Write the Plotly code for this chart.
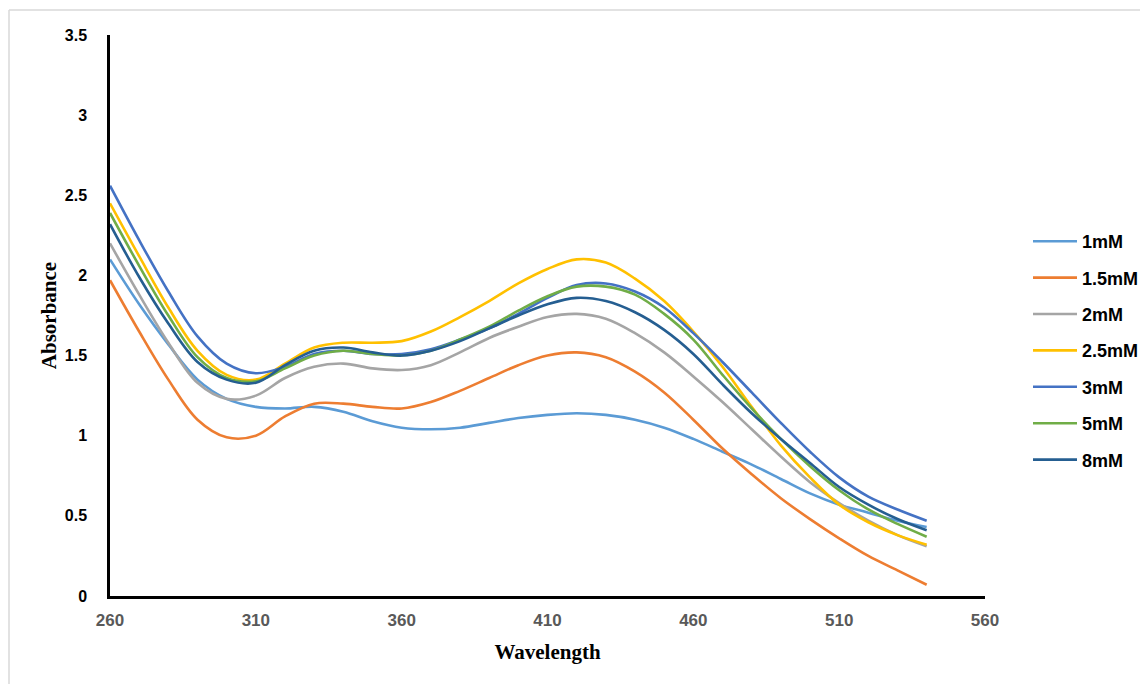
import plotly.graph_objects as go

wavelength = list(range(260, 541, 10))

a_1mM = [2.10, 1.82, 1.57, 1.35, 1.23, 1.18, 1.17, 1.18, 1.15, 1.09, 1.05, 1.04, 1.05, 1.08, 1.11,
         1.13, 1.14, 1.13, 1.10, 1.05, 0.98, 0.90, 0.82, 0.73, 0.64, 0.57, 0.52, 0.47, 0.43]
a_1_5mM = [1.97, 1.65, 1.35, 1.10, 0.99, 1.00, 1.12, 1.20, 1.20, 1.18, 1.17, 1.21, 1.28, 1.36, 1.44,
           1.50, 1.52, 1.49, 1.40, 1.27, 1.10, 0.92, 0.76, 0.61, 0.48, 0.36, 0.25, 0.16, 0.07]
a_2mM = [2.20, 1.88, 1.58, 1.33, 1.23, 1.25, 1.36, 1.43, 1.45, 1.42, 1.41, 1.44, 1.52, 1.61, 1.68,
         1.74, 1.76, 1.73, 1.64, 1.52, 1.37, 1.21, 1.04, 0.87, 0.71, 0.58, 0.47, 0.38, 0.31]
a_2_5mM = [2.45, 2.12, 1.80, 1.53, 1.38, 1.35, 1.45, 1.55, 1.58, 1.58, 1.59, 1.65, 1.74, 1.84, 1.95,
           2.04, 2.10, 2.08, 1.98, 1.84, 1.65, 1.43, 1.18, 0.94, 0.74, 0.57, 0.46, 0.38, 0.32]
a_3mM = [2.56, 2.22, 1.90, 1.62, 1.45, 1.39, 1.43, 1.51, 1.53, 1.51, 1.51, 1.54, 1.60, 1.67, 1.76,
         1.86, 1.94, 1.95, 1.90, 1.80, 1.64, 1.46, 1.27, 1.08, 0.90, 0.74, 0.62, 0.54, 0.47]
a_5mM = [2.39, 2.06, 1.75, 1.49, 1.36, 1.34, 1.42, 1.50, 1.53, 1.51, 1.50, 1.53, 1.60, 1.68, 1.78,
         1.87, 1.93, 1.93, 1.88, 1.76, 1.60, 1.38, 1.17, 0.98, 0.81, 0.66, 0.54, 0.45, 0.37]
a_8mM = [2.32, 1.99, 1.70, 1.46, 1.35, 1.33, 1.44, 1.53, 1.55, 1.52, 1.50, 1.53, 1.59, 1.67, 1.75,
         1.82, 1.86, 1.84, 1.77, 1.66, 1.51, 1.32, 1.14, 0.98, 0.83, 0.68, 0.57, 0.48, 0.41]

series_names = ["1mM", "1.5mM", "2mM", "2.5mM", "3mM", "5mM", "8mM"]
series_values = [a_1mM, a_1_5mM, a_2mM, a_2_5mM, a_3mM, a_5mM, a_8mM]
colors = ["#5B9BD5", "#ED7D31", "#A5A5A5", "#FFC000", "#4472C4", "#70AD47", "#255E91"]

x_ticks = [260, 310, 360, 410, 460, 510, 560]
y_ticks = [0, 0.5, 1, 1.5, 2, 2.5, 3, 3.5]
y_tick_text = ["0", "0.5", "1", "1.5", "2", "2.5", "3", "3.5"]

fig = go.Figure()
for name, vals, col in zip(series_names, series_values, colors):
    fig.add_trace(go.Scatter(
        x=wavelength, y=vals, name=name, mode="lines",
        line=dict(color=col, width=2.6, shape="spline", smoothing=1.0),
        legendgroup=name,
    ))

# page body has an 8px margin, so the figure is drawn at (8, 8)
W, H = 1140, 676
L, R, T, B = 102, 163, 27, 88
pw, ph = W - L - R, H - T - B

SANS = "Liberation Sans, Arial, sans-serif"
SERIF = "Liberation Serif, Times New Roman, serif"

fig.update_layout(
    width=W, height=H,
    margin=dict(l=L, r=R, t=T, b=B, autoexpand=False),
    paper_bgcolor="white", plot_bgcolor="white",
    font=dict(family=SANS, size=14, color="black"),
    showlegend=True,
    legend=dict(
        x=(1020 - L) / pw, y=(H - B - 215) / ph, xanchor="left", yanchor="top",
        font=dict(family=SANS, size=18, color="black", weight="bold"),
        tracegroupgap=10, itemwidth=44, bgcolor="rgba(0,0,0,0)",
    ),
    xaxis=dict(
        range=[260, 560], tickvals=x_ticks, ticktext=[str(v) for v in x_ticks],
        showgrid=False, zeroline=False, showline=True, linecolor="black", linewidth=2.5,
        ticks="", ticklabelstandoff=7,
        tickfont=dict(family=SANS, size=17, color="#595959", weight="bold"),
        title=dict(text="<b>Wavelength</b>", standoff=16,
                   font=dict(family=SERIF, size=21, color="black")),
    ),
    yaxis=dict(
        range=[0, 3.5], tickvals=y_ticks, ticktext=y_tick_text,
        showgrid=False, zeroline=False, showline=True, linecolor="black", linewidth=2.5,
        ticks="", ticklabelstandoff=17,
        tickfont=dict(family=SANS, size=16, color="black", weight="bold"),
        title=dict(text="<b>Absorbance</b>", standoff=3,
                   font=dict(family=SERIF, size=21, color="black")),
    ),
    shapes=[
        dict(type="line", xref="paper", yref="paper",
             x0=(1 - L) / pw, x1=(W + 20 - L) / pw,
             y0=(H - B - 2) / ph, y1=(H - B - 2) / ph,
             line=dict(color="#D9D9D9", width=1.5), layer="below"),
        dict(type="line", xref="paper", yref="paper",
             x0=(1 - L) / pw, x1=(1 - L) / pw,
             y0=(H - B - 2) / ph, y1=(H - B - H - 20) / ph,
             line=dict(color="#D9D9D9", width=1.5), layer="below"),
    ],
)

fig.write_html("out.html")
